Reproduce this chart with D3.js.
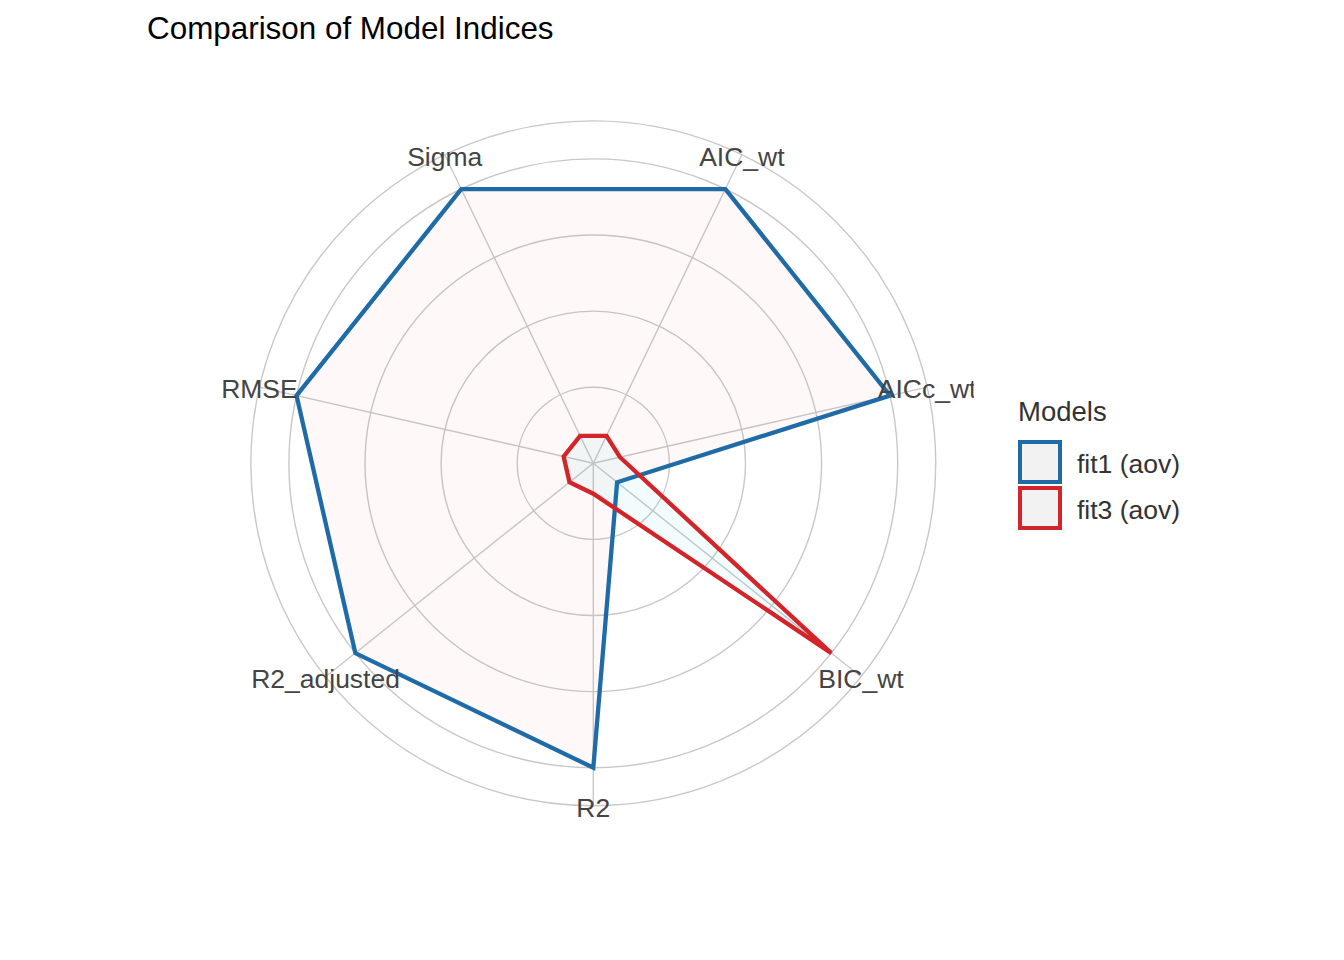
<!DOCTYPE html>
<html>
<head>
<meta charset="utf-8">
<script src="https://cdn.jsdelivr.net/npm/d3@7"></script>
<style>
  body { margin: 0; background: #fff; }
  svg text { font-family: "Liberation Sans", Arial, sans-serif; }
</style>
</head>
<body>
<svg id="chart"></svg>
<script>
// indices in the order ggplot puts them round the circle (clockwise from top)
const indices = ["AIC_wt", "AICc_wt", "BIC_wt", "R2", "R2_adjusted", "RMSE", "Sigma"];
const models = ["fit1 (aov)", "fit3 (aov)"];
const fit1Values = [1, 1, 0.1, 1, 1, 1, 1];
const fit3Values = [0.1, 0.09, 1, 0.1, 0.1, 0.1, 0.1];
const gridBreaks = [0.25, 0.5, 0.75, 1];

const lineColors = ["#1f6ba8", "#d3242a"];
const fillColors = ["#F8766D", "#00BFC4"];

const width = 1344, height = 960;
const cx = 593.3, cy = 463.3;
const half = 380.5;            // half the square panel
const rmax = half * 0.8;       // value 1 sits at 0.4 of panel width
const rlab = half * 0.9;       // labels and outer ring at 0.45

const svg = d3.select("#chart")
  .attr("width", width)
  .attr("height", height);

svg.append("defs").append("clipPath")
  .attr("id", "panel-clip")
  .append("rect")
  .attr("x", cx - half).attr("y", cy - half)
  .attr("width", 2 * half).attr("height", 2 * half);

const theta = d3.scaleBand()
  .domain(indices)
  .range([0, 2 * Math.PI]);
const angle = d => theta(d) + theta.bandwidth() / 2;

const r = d3.scaleLinear()
  .domain([0, 1])
  .range([0, rmax]);

const panel = svg.append("g")
  .attr("clip-path", "url(#panel-clip)")
  .append("g")
  .attr("transform", `translate(${cx},${cy})`);

// grid: circles at the breaks plus the outer ring, spokes to the ring
panel.append("g")
  .selectAll("circle")
  .data(gridBreaks.map(r).concat([rlab]))
  .join("circle")
  .attr("r", d => d)
  .attr("fill", "none")
  .attr("stroke", "#c8c8c8")
  .attr("stroke-width", 1.4);

panel.append("g")
  .selectAll("line")
  .data(indices)
  .join("line")
  .attr("x1", 0).attr("y1", 0)
  .attr("x2", d => rlab * Math.sin(angle(d)))
  .attr("y2", d => -rlab * Math.cos(angle(d)))
  .attr("stroke", "#c8c8c8")
  .attr("stroke-width", 1.4);

// one polygon per model
const series = [fit1Values, fit3Values].map((vals, i) => ({
  model: models[i],
  points: indices.map((k, j) => ({key: k, value: vals[j]}))
}));

const radial = d3.lineRadial()
  .angle(p => angle(p.key))
  .radius(p => r(p.value))
  .curve(d3.curveLinearClosed);

panel.append("g")
  .selectAll("path")
  .data(series)
  .join("path")
  .attr("d", s => radial(s.points))
  .attr("fill", (_, i) => fillColors[i])
  .attr("fill-opacity", 0.05)
  .attr("stroke", (_, i) => lineColors[i])
  .attr("stroke-width", 4.3)
  .attr("stroke-linejoin", "miter");

// axis labels sit on the outer ring and get clipped by the panel
panel.append("g")
  .selectAll("text")
  .data(indices)
  .join("text")
  .attr("x", d => rlab * Math.sin(angle(d)))
  .attr("y", d => -rlab * Math.cos(angle(d)))
  .attr("dy", "0.42em")
  .attr("text-anchor", "middle")
  .attr("font-size", 26.5)
  .attr("fill", "#444")
  .text(d => d);

svg.append("text")
  .attr("x", 147)
  .attr("y", 38.5)
  .attr("font-size", 31.4)
  .attr("fill", "#000")
  .text("Comparison of Model Indices");

// legend
const legend = svg.append("g")
  .attr("transform", "translate(1018,0)");

legend.append("text")
  .attr("x", 0)
  .attr("y", 421)
  .attr("font-size", 27.5)
  .attr("fill", "#333")
  .text("Models");

const keys = legend.selectAll("g.key")
  .data(models)
  .join("g")
  .classed("key", true)
  .attr("transform", (_, i) => `translate(0,${442 + i * 46})`);

keys.append("rect")
  .attr("x", 2).attr("y", 0)
  .attr("width", 40).attr("height", 40)
  .attr("fill", "#f2f2f2")
  .attr("stroke", (_, i) => lineColors[i])
  .attr("stroke-width", 4);

keys.append("text")
  .attr("x", 59)
  .attr("y", 20)
  .attr("dy", "0.4em")
  .attr("font-size", 26.5)
  .attr("fill", "#333")
  .text(d => d);
</script>
</body>
</html>
